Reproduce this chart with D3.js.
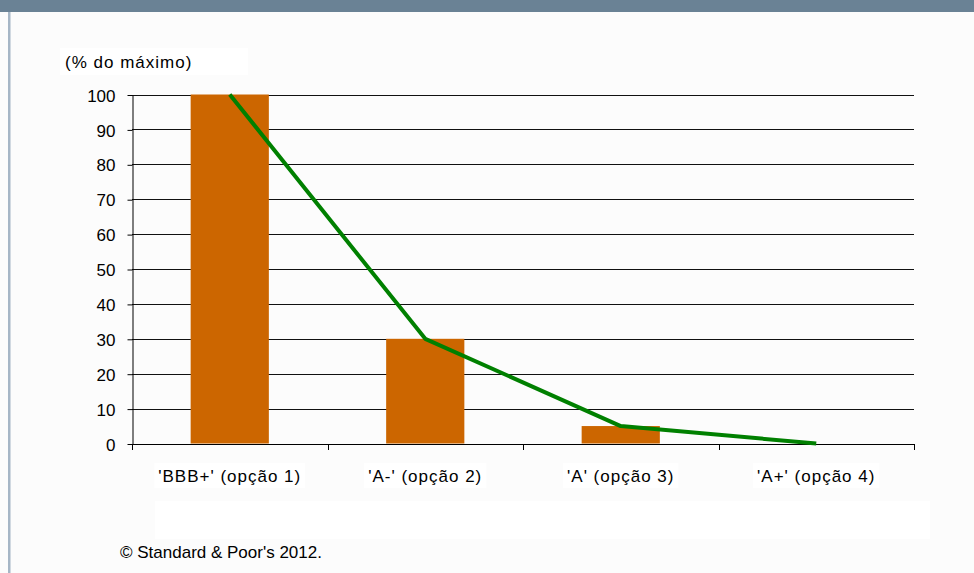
<!DOCTYPE html>
<html>
<head>
<meta charset="utf-8">
<script src="https://cdn.jsdelivr.net/npm/d3@7"></script>
<style>
  html, body { margin: 0; padding: 0; background: #fcfcfc; }
  svg { display: block; }
  text { font-family: "Liberation Sans", Arial, sans-serif; fill: #000; }
</style>
</head>
<body>
<svg id="chart" width="974" height="573"></svg>
<script>
const categories = ["'BBB+' (opção 1)", "'A-' (opção 2)", "'A' (opção 3)", "'A+' (opção 4)"];
const barValues = [100, 30, 5, 0];
const lineValues = [100, 30, 5, 0];
const yTicks = [0, 10, 20, 30, 40, 50, 60, 70, 80, 90, 100];
const yLabel = "(% do máximo)";
const footnote = "© Standard & Poor's 2012.";

const svg = d3.select("#chart");
const W = 974, H = 573;

// page decoration
svg.append("rect").attr("x", 0).attr("y", 0).attr("width", W).attr("height", H).attr("fill", "#fcfcfc");
svg.append("rect").attr("x", 0).attr("y", 0).attr("width", W).attr("height", 12).attr("fill", "#6a8295");
svg.append("rect").attr("x", 8).attr("y", 12).attr("width", 2.5).attr("height", H - 12).attr("fill", "#a6b6c6");

const plot = { left: 132, right: 914, top: 94.5, bottom: 443.5 };

const x = d3.scaleBand().domain(categories).range([plot.left, plot.right]).paddingInner(0).paddingOuter(0);
const y = d3.scaleLinear().domain([0, 100]).range([plot.bottom, plot.top]);

// y label box + text
svg.append("rect").attr("x", 60).attr("y", 48).attr("width", 188).attr("height", 27).attr("fill", "#ffffff");
svg.append("text").attr("x", 65).attr("y", 68).attr("font-size", 17).attr("letter-spacing", 1).text(yLabel);

// gridlines
svg.append("g").selectAll("line").data(yTicks.filter(d => d > 0)).join("line")
  .attr("x1", plot.left).attr("x2", plot.right)
  .attr("y1", d => Math.round(y(d)) + 0.5).attr("y2", d => Math.round(y(d)) + 0.5)
  .attr("stroke", "#111").attr("stroke-width", 1);

// bars
const bw = x.bandwidth() * 0.4;
svg.append("g").selectAll("rect").data(categories).join("rect")
  .attr("x", (d) => x(d) + x.bandwidth() / 2 - bw / 2)
  .attr("width", bw)
  .attr("y", (d, i) => y(barValues[i]))
  .attr("height", (d, i) => y(0) - y(barValues[i]))
  .attr("fill", "#cc6600");

// y axis
const yAxis = d3.axisLeft(y).tickValues(yTicks).tickSize(5).tickPadding(12).tickSizeOuter(0);
const gy = svg.append("g").attr("transform", `translate(${plot.left + 0.5},0.5)`).call(yAxis);
gy.select(".domain").attr("stroke", "#000");
gy.selectAll(".tick line").attr("stroke", "#000");
gy.selectAll("text").attr("font-size", 17).attr("font-family", "Liberation Sans, Arial, sans-serif").attr("fill", "#000").attr("dy", "0.36em");

// x axis line and boundary ticks
svg.append("line").attr("x1", plot.left).attr("x2", plot.right + 1)
  .attr("y1", Math.round(y(0)) + 0.5).attr("y2", Math.round(y(0)) + 0.5)
  .attr("stroke", "#000").attr("stroke-width", 1);
const bounds = categories.map(c => x(c)).concat([plot.right]);
svg.append("g").selectAll("line").data(bounds).join("line")
  .attr("x1", d => Math.round(d) + 0.5).attr("x2", d => Math.round(d) + 0.5)
  .attr("y1", Math.round(y(0))).attr("y2", Math.round(y(0)) + 6)
  .attr("stroke", "#000");

// x labels with white boxes
const gx = svg.append("g");
categories.forEach((c) => {
  const cx = x(c) + x.bandwidth() / 2;
  const t = gx.append("text").attr("x", cx).attr("y", 482).attr("text-anchor", "middle")
    .attr("font-size", 17).attr("letter-spacing", 1).text(c);
  const bb = t.node().getBBox();
  gx.insert("rect", "text").attr("x", bb.x - 4).attr("y", 463).attr("width", bb.width + 8).attr("height", 25).attr("fill", "#ffffff");
});

// line
const line = d3.line().x((d, i) => x(categories[i]) + x.bandwidth() / 2).y(d => y(d));
svg.append("path").datum(lineValues).attr("d", line)
  .attr("fill", "none").attr("stroke", "#008000").attr("stroke-width", 4).attr("stroke-linejoin", "round");

// empty legend box
svg.append("rect").attr("x", 155).attr("y", 501).attr("width", 775).attr("height", 38).attr("fill", "#ffffff");

// footnote
svg.append("text").attr("x", 120).attr("y", 558).attr("font-size", 17).text(footnote);
</script>
</body>
</html>
